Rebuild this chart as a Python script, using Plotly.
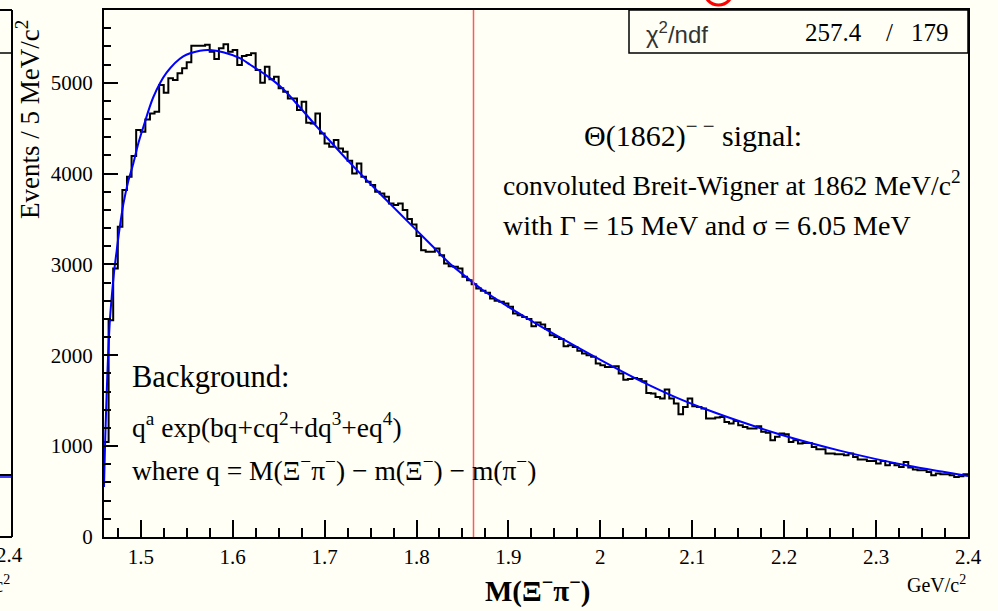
import plotly.graph_objects as go

# ---------------- data ----------------
BIN_START = 1.46          # GeV/c^2, lower edge of first bin
BIN_WIDTH = 0.005         # 5 MeV bins
counts = [
    1046, 2386, 2955, 3414, 3818, 3965, 4192, 4479, 4460, 4596,
    4662, 4681, 4974, 4890, 5048, 5029, 5103, 5158, 5224, 5407,
    5407, 5407, 5418, 5341, 5261, 5378, 5422, 5341, 5360, 5195,
    5294, 5305, 5323, 5139, 5000, 5176, 5037, 5066, 4938, 4901,
    4827, 4827, 4699, 4791, 4559, 4552, 4662, 4442, 4332, 4295,
    4369, 4277, 4240, 4140, 4000, 4112, 3965, 3910, 3873, 3800,
    3781, 3745, 3671, 3653, 3671, 3598, 3500, 3440, 3312, 3157,
    3139, 3139, 3176, 3102, 3010, 2981, 2974, 2955, 2864, 2827,
    2783, 2735, 2710, 2687, 2625, 2600, 2588, 2570, 2533, 2460,
    2440, 2420, 2400, 2320, 2360, 2340, 2290, 2220, 2200, 2180,
    2100, 2110, 2090, 2050, 2020, 2000, 1985, 1910, 1890, 1870,
    1870, 1880, 1800, 1730, 1740, 1750, 1740, 1715, 1586, 1579,
    1542, 1524, 1623, 1524, 1469, 1351, 1432, 1524, 1439, 1432,
    1414, 1303, 1303, 1314, 1322, 1267, 1248, 1278, 1230, 1212,
    1193, 1193, 1219, 1157, 1146, 1065, 1102, 1138, 1131, 1046,
    1065, 1028, 1035, 1035, 991, 966, 966, 918, 918, 911,
    911, 900, 918, 881, 852, 852, 837, 837, 808, 837,
    789, 815, 789, 771, 826, 764, 742, 734, 734, 716,
    679, 698, 690, 690, 679, 661, 668, 690,
]

fit_mass = [1.4600, 1.4611, 1.4622, 1.4635, 1.4647, 1.4665, 1.4684, 1.4710,
            1.4738, 1.4770, 1.4810, 1.4860, 1.4919, 1.4970, 1.5027, 1.5136,
            1.5281, 1.5462, 1.5643, 1.5752, 1.5897, 1.6078, 1.6187, 1.6367,
            1.6549, 1.6730, 1.6912, 1.7093, 1.7274, 1.7455, 1.7636, 1.7818,
            1.7999, 1.8180, 1.8361, 1.8542, 1.8723, 1.9004, 1.9366, 1.9729,
            2.0091, 2.0453, 2.0816, 2.1178, 2.1540, 2.1903, 2.2265, 2.2627,
            2.2990, 2.3352, 2.3714, 2.4000]
fit_counts = [550, 1000, 1360, 1750, 2050, 2400, 2640, 2920,
              3150, 3400, 3660, 3900, 4110, 4320, 4510, 4840,
              5110, 5290, 5352, 5360, 5335, 5270, 5200, 5080,
              4930, 4730, 4520, 4320, 4120, 3930, 3745, 3560,
              3377, 3195, 3010, 2860, 2715, 2530, 2310, 2100,
              1900, 1710, 1540, 1395, 1265, 1145, 1040, 945,
              860, 785, 720, 670]

SIGNAL_MASS = 1.862
x_tick_vals = [1.5, 1.6, 1.7, 1.8, 1.9, 2.0, 2.1, 2.2, 2.3, 2.4]
x_tick_text = ["1.5", "1.6", "1.7", "1.8", "1.9", "2", "2.1", "2.2", "2.3", "2.4"]
y_tick_vals = [0, 1000, 2000, 3000, 4000, 5000]
chi2_text = "257.4"
ndf_text = "179"

# ---------------- layout helpers ----------------
W, H = 998, 611
BG = "#FFFFF5"
SERIF = "Liberation Serif"


def px(x):
    return x / W


def py(y):
    return 1 - y / H


edges = [BIN_START + BIN_WIDTH * i for i in range(len(counts) + 1)]
step_y = counts + [counts[-1]]

fig = go.Figure()
fig.add_trace(go.Scatter(x=edges, y=step_y, mode="lines", line_shape="hv",
                         line=dict(color="black", width=2), hoverinfo="skip"))
fig.add_trace(go.Scatter(x=fit_mass, y=fit_counts, mode="lines",
                         line=dict(color="#0000FF", width=2, shape="spline", smoothing=0.8),
                         hoverinfo="skip"))

axis_common = dict(showgrid=False, zeroline=False, showline=True, linecolor="black",
                   linewidth=2, mirror=True, ticks="inside", tickcolor="black",
                   tickwidth=1.5, automargin=False,
                   tickfont=dict(family=SERIF, size=21, color="black"))

fig.update_xaxes(range=[BIN_START, 2.4], domain=[px(104), px(968)],
                 tickvals=x_tick_vals, ticktext=x_tick_text, ticklen=17,
                 minor=dict(dtick=0.025, tick0=1.5, ticklen=9, ticks="inside",
                            tickcolor="black", tickwidth=1.5),
                 ticklabelstandoff=0, **axis_common)
fig.update_yaxes(range=[0, 5800], domain=[py(537), py(10)],
                 tickvals=y_tick_vals, ticklen=14,
                 minor=dict(dtick=200, tick0=0, ticklen=7, ticks="inside",
                            tickcolor="black", tickwidth=1.5),
                 ticklabelstandoff=5, **axis_common)

shapes = []
# signal position line
shapes.append(dict(type="line", xref="x", yref="paper", x0=SIGNAL_MASS, x1=SIGNAL_MASS,
                   y0=py(537), y1=py(10), line=dict(color="#FF5A5A", width=1.5), layer="above"))
# stat box
shapes.append(dict(type="rect", xref="paper", yref="paper", x0=px(629), x1=px(968),
                   y0=py(53), y1=py(10), line=dict(color="black", width=1.5)))
# neighbouring (cut-off) panel on the left
for (x0, y0, x1, y1, w) in [(12, 10, 12, 537, 2), (0, 537, 12, 537, 2),
                            (0, 10, 12, 10, 2), (0, 53, 12, 53, 1.5)]:
    shapes.append(dict(type="line", xref="paper", yref="paper", x0=px(x0), x1=px(x1),
                       y0=py(y0), y1=py(y1), line=dict(color="black", width=w)))
shapes.append(dict(type="line", xref="paper", yref="paper", x0=px(0), x1=px(11),
                   y0=py(475), y1=py(475), line=dict(color="black", width=2)))
shapes.append(dict(type="line", xref="paper", yref="paper", x0=px(0), x1=px(11),
                   y0=py(477), y1=py(477), line=dict(color="#0000FF", width=1.5)))
# red ring at top edge
shapes.append(dict(type="circle", xref="paper", yref="paper", x0=px(704), x1=px(733),
                   y0=py(5), y1=py(-25), line=dict(color="#FF0000", width=3)))

ann = []


def text(s, x, y, size, xanchor="left", yanchor="middle", family=SERIF, color="black", angle=0):
    ann.append(dict(text=s, x=px(x), y=py(y), xref="paper", yref="paper", showarrow=False,
                    xanchor=xanchor, yanchor=yanchor, textangle=angle,
                    font=dict(family=family, size=size, color=color)))


text("χ<sup>2</sup>/ndf", 644, 33, 24, family="Liberation Sans", color="#333333")
text(chi2_text, 803, 33, 25)
text("/", 889, 33, 25, xanchor="center")
text(ndf_text, 951, 33, 25, xanchor="right")

text("Θ(1862)<sup>− −</sup> signal:", 582, 134, 30)
text("convoluted Breit-Wigner at 1862 MeV/c<sup>2</sup>", 501, 184, 27.6)
text("with Γ = 15 MeV and σ = 6.05 MeV", 501, 226, 28)

text("Background:", 130, 377, 30.5)
text("q<sup>a</sup> exp(bq+cq<sup>2</sup>+dq<sup>3</sup>+eq<sup>4</sup>)", 130, 425, 27.5)
text("where q = M(Ξ<sup>−</sup>π<sup>−</sup>) − m(Ξ<sup>−</sup>) − m(π<sup>−</sup>)", 130, 468, 27.5)

text("<b>M(Ξ<sup>−</sup>π<sup>−</sup>)</b>", 537, 589, 29, xanchor="center")
text("GeV/c<sup>2</sup>", 968, 584, 20, xanchor="right")
text("Events / 5 MeV/c<sup>2</sup>", 28, 120, 27, xanchor="center", angle=-90)

# cut-off labels of the neighbouring panel
text("2.4", 25, 555, 21, xanchor="right")
text("GeV/c<sup>2</sup>", 12, 584, 20, xanchor="right")

fig.update_layout(width=W, height=H, margin=dict(l=0, r=0, t=0, b=0),
                  paper_bgcolor=BG, plot_bgcolor=BG, showlegend=False,
                  shapes=shapes, annotations=ann)

fig.write_html("out.html")
